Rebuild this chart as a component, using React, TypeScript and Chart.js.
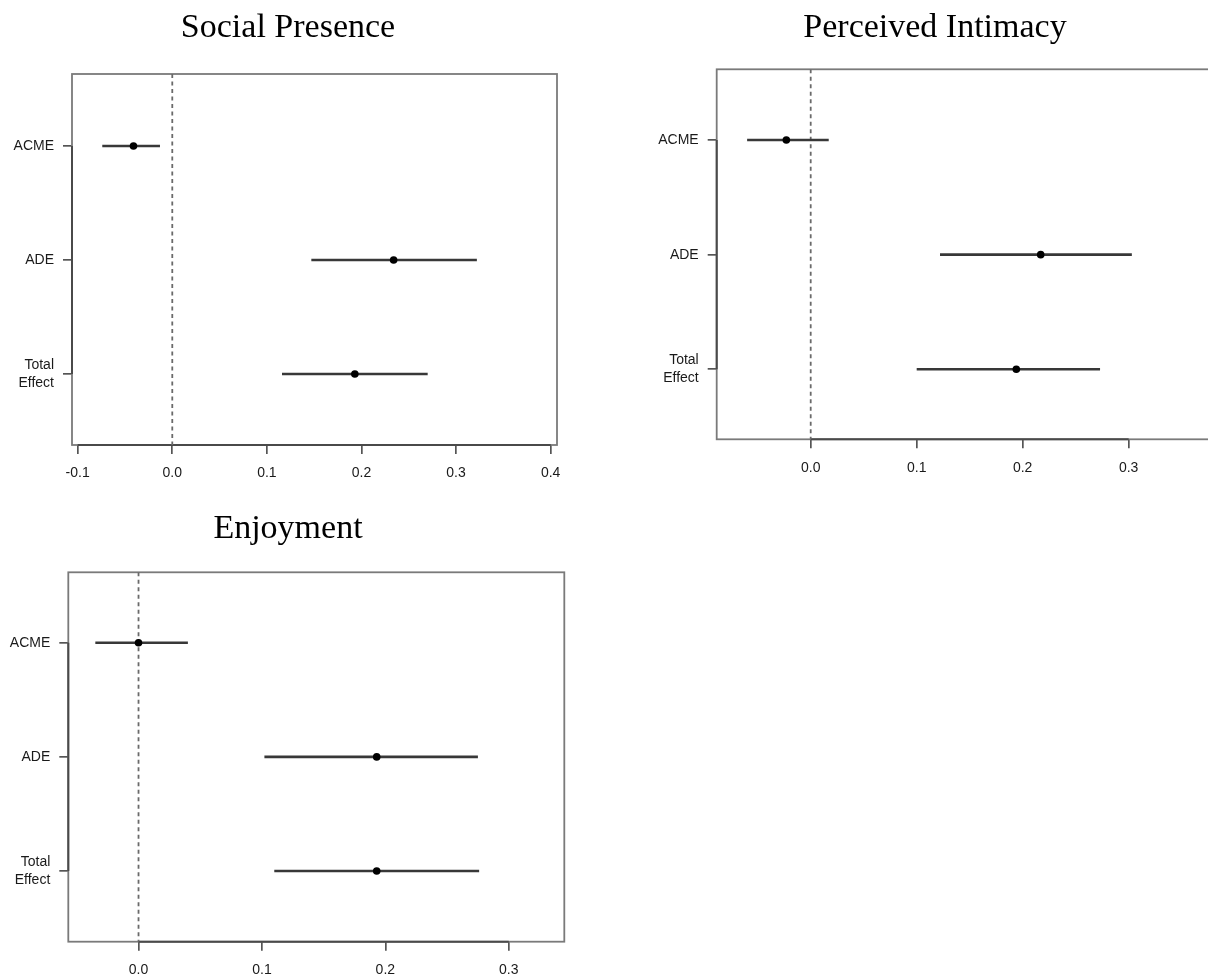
import React, { useEffect, useRef } from "react";
import { Chart, registerables } from "chart.js";

Chart.register(...registerables);

// ---------- data ----------
const categories = ["ACME", "ADE", "Total Effect"];
const categoryTickLabels = [["ACME"], ["ADE"], ["Total", "Effect"]];
const categoryPositions = [1, 2, 3];

const socialPresenceEstimate = [-0.041, 0.234, 0.193];
const socialPresenceLower = [-0.074, 0.147, 0.116];
const socialPresenceUpper = [-0.013, 0.322, 0.27];
const socialPresenceTicks = [-0.1, 0, 0.1, 0.2, 0.3, 0.4];

const intimacyEstimate = [-0.023, 0.217, 0.194];
const intimacyLower = [-0.06, 0.122, 0.1];
const intimacyUpper = [0.017, 0.303, 0.273];
const intimacyTicks = [0, 0.1, 0.2, 0.3];

const enjoymentEstimate = [0.0, 0.193, 0.193];
const enjoymentLower = [-0.035, 0.102, 0.11];
const enjoymentUpper = [0.04, 0.275, 0.276];
const enjoymentTicks = [0, 0.1, 0.2, 0.3];

// ---------- layout ----------
type Panel = {
  title: string;
  est: number[];
  lower: number[];
  upper: number[];
  xTicks: number[];
  xMin: number;
  xMax: number;
  yMin: number;
  yMax: number;
  left: number;
  top: number;
  width: number;
  height: number;
  yW: number;
  rightW: number;
  xH: number;
  titleTop: number;
  titleBottom: number;
};

const panels: Panel[] = [
  {
    title: "Social Presence",
    est: socialPresenceEstimate,
    lower: socialPresenceLower,
    upper: socialPresenceUpper,
    xTicks: socialPresenceTicks,
    xMin: -0.106,
    xMax: 0.4067,
    yMin: 0.368,
    yMax: 3.623,
    left: 0,
    top: 0,
    width: 576,
    height: 500,
    yW: 72,
    rightW: 19,
    xH: 55,
    titleTop: 7.6,
    titleBottom: 25.6,
  },
  {
    title: "Perceived Intimacy",
    est: intimacyEstimate,
    lower: intimacyLower,
    upper: intimacyUpper,
    xTicks: intimacyTicks,
    xMin: -0.0887,
    xMax: 0.3758,
    yMin: 0.383,
    yMax: 3.611,
    left: 640,
    top: 0,
    width: 590,
    height: 500,
    yW: 76.7,
    rightW: 21,
    xH: 60.7,
    titleTop: 7.6,
    titleBottom: 20.9,
  },
  {
    title: "Enjoyment",
    est: enjoymentEstimate,
    lower: enjoymentLower,
    upper: enjoymentUpper,
    xTicks: enjoymentTicks,
    xMin: -0.0569,
    xMax: 0.345,
    yMin: 0.383,
    yMax: 3.619,
    left: 0,
    top: 500,
    width: 576,
    height: 477,
    yW: 68.3,
    rightW: 11.7,
    xH: 35.3,
    titleTop: 8.6,
    titleBottom: 22.9,
  },
];

const SANS = "'Liberation Sans', Arial, sans-serif";
const SERIF = "'Liberation Serif', 'Times New Roman', serif";

const framePlugin = {
  id: "rFrame",
  beforeDatasetsDraw(chart: any, _args: any, opts: any) {
    const { ctx, chartArea } = chart;
    const { left, top, right, bottom } = chartArea;
    ctx.save();
    ctx.strokeStyle = "#7a7a7a";
    ctx.lineWidth = 1.8;
    ctx.strokeRect(left, top, right - left, bottom - top);
    // darker axis lines spanning first to last tick (R style)
    const xs = chart.scales.x;
    const ys = chart.scales.y;
    const xt: number[] = opts.xTicks || [];
    const yt: number[] = opts.yTicks || [];
    ctx.strokeStyle = "#4a4a4a";
    ctx.lineWidth = 2;
    if (xt.length) {
      ctx.beginPath();
      ctx.moveTo(xs.getPixelForValue(xt[0]), bottom);
      ctx.lineTo(xs.getPixelForValue(xt[xt.length - 1]), bottom);
      ctx.stroke();
    }
    if (yt.length) {
      ctx.beginPath();
      ctx.moveTo(left, ys.getPixelForValue(yt[0]));
      ctx.lineTo(left, ys.getPixelForValue(yt[yt.length - 1]));
      ctx.stroke();
    }
    ctx.restore();
  },
};

function ForestPanel({ p }: { p: Panel }) {
  const ref = useRef<HTMLCanvasElement | null>(null);
  useEffect(() => {
    if (!ref.current) return;
    const datasets: any[] = [];
    datasets.push({
      label: "Estimate",
      data: p.est.map((v, i) => ({ x: v, y: categoryPositions[i] })),
      showLine: false,
      pointRadius: 3.8,
      pointBackgroundColor: "#000",
      pointBorderColor: "#000",
      pointBorderWidth: 0,
    });
    categories.forEach((c, i) => {
      datasets.push({
        label: c,
        data: [
          { x: p.lower[i], y: categoryPositions[i] },
          { x: p.upper[i], y: categoryPositions[i] },
        ],
        showLine: true,
        borderColor: "#383838",
        borderWidth: 2.6,
        pointRadius: 0,
      });
    });
    datasets.push({
      label: "zero",
      data: [
        { x: 0, y: p.yMin },
        { x: 0, y: p.yMax },
      ],
      showLine: true,
      borderColor: "#6a6a6a",
      borderWidth: 1.8,
      borderDash: [4, 3.5],
      pointRadius: 0,
    });

    const chart = new Chart(ref.current, {
      type: "scatter",
      data: { datasets },
      plugins: [framePlugin],
      options: {
        animation: false,
        responsive: false,
        events: [],
        layout: { padding: 0 },
        plugins: {
          legend: { display: false },
          tooltip: { enabled: false },
          title: {
            display: true,
            text: p.title,
            color: "#000",
            font: { family: SERIF, size: 34, weight: "normal", lineHeight: 1.2 },
            padding: { top: p.titleTop, bottom: p.titleBottom },
          },
          rFrame: { xTicks: p.xTicks, yTicks: categoryPositions },
        } as any,
        scales: {
          x: {
            type: "linear",
            min: p.xMin,
            max: p.xMax,
            border: { display: false },
            grid: {
              drawOnChartArea: false,
              drawTicks: true,
              tickLength: 9,
              color: "#555",
              lineWidth: 1.7,
            },
            afterBuildTicks: (scale: any) => {
              scale.ticks = p.xTicks.map((v) => ({ value: v }));
            },
            afterFit: (scale: any) => {
              scale.height = p.xH;
            },
            ticks: {
              color: "#1a1a1a",
              padding: 11,
              font: { family: SANS, size: 14 },
              maxRotation: 0,
              callback: (v: any) => Number(v).toFixed(1),
            },
          },
          y: {
            type: "linear",
            position: "left",
            reverse: true,
            min: p.yMin,
            max: p.yMax,
            border: { display: false },
            grid: {
              drawOnChartArea: false,
              drawTicks: true,
              tickLength: 9,
              color: "#555",
              lineWidth: 1.7,
            },
            afterBuildTicks: (scale: any) => {
              scale.ticks = categoryPositions.map((v) => ({ value: v }));
            },
            afterFit: (scale: any) => {
              scale.width = p.yW;
            },
            ticks: {
              color: "#1a1a1a",
              padding: 9,
              font: { family: SANS, size: 14, lineHeight: 1.25 },
              callback: (v: any) => {
                const idx = categoryPositions.indexOf(Number(v));
                return idx >= 0 ? categoryTickLabels[idx] : "";
              },
            },
          },
          yRight: {
            type: "linear",
            position: "right",
            display: true,
            grid: { display: false },
            border: { display: false },
            ticks: { display: false },
            afterFit: (scale: any) => {
              scale.width = p.rightW;
            },
          },
        },
      } as any,
    });
    return () => chart.destroy();
  }, [p]);

  return (
    <div
      style={{
        position: "absolute",
        left: p.left,
        top: p.top,
        width: p.width,
        height: p.height,
      }}
    >
      <canvas ref={ref} width={p.width} height={p.height} style={{ display: "block" }} />
    </div>
  );
}

export default function App() {
  return (
    <div
      style={{
        position: "absolute",
        left: 0,
        top: 0,
        width: 1208,
        height: 977,
        overflow: "hidden",
        background: "#fff",
      }}
    >
      {panels.map((p) => (
        <ForestPanel key={p.title} p={p} />
      ))}
    </div>
  );
}
